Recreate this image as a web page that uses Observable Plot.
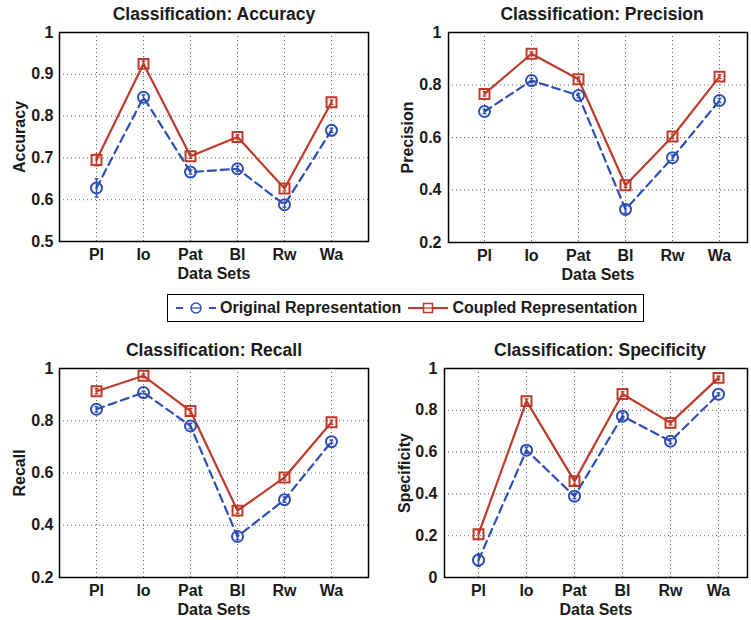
<!DOCTYPE html>
<html>
<head>
<meta charset="utf-8">
<script src="https://cdn.jsdelivr.net/npm/d3@7"></script>
<script src="https://cdn.jsdelivr.net/npm/@observablehq/plot@0.6"></script>
<style>
  body { margin: 0; background: #fff; font-family: "Liberation Sans", Arial, Helvetica, sans-serif; }
  #wrap { position: relative; width: 751px; height: 620px; overflow: hidden; }
  .panel { position: absolute; }
  #legend {
    position: absolute; left: 167px; top: 294px; width: 477px; height: 28px;
    box-sizing: border-box; border: 1px solid #000; background: #fff;
    font-weight: bold; font-size: 16px; color: #1a1a1a;
    display: flex; align-items: center; white-space: nowrap;
  }
  #legend svg { display: block; flex: none; }
  #legend .lab { margin-left: 3px; }
</style>
</head>
<body>
<div id="wrap"><div id="legend"></div></div>
<script>
// Data sets on the x axis
const datasets = ["Pl", "Io", "Pat", "Bl", "Rw", "Wa"];

// Accuracy
const accOriginal = [0.628, 0.845, 0.666, 0.674, 0.588, 0.766];
const accOriginalErr = [0.022, 0.006, 0.005, 0.006, 0.006, 0.005];
const accCoupled = [0.695, 0.925, 0.704, 0.750, 0.627, 0.833];
const accCoupledErr = [0.014, 0.006, 0.005, 0.005, 0.006, 0.005];

// Precision
const precOriginal = [0.699, 0.817, 0.760, 0.326, 0.523, 0.741];
const precOriginalErr = [0.008, 0.008, 0.008, 0.014, 0.010, 0.008];
const precCoupled = [0.766, 0.919, 0.822, 0.418, 0.604, 0.832];
const precCoupledErr = [0.008, 0.007, 0.008, 0.008, 0.008, 0.007];

// Recall
const recOriginal = [0.844, 0.908, 0.780, 0.357, 0.498, 0.720];
const recOriginalErr = [0.010, 0.005, 0.010, 0.012, 0.010, 0.006];
const recCoupled = [0.913, 0.972, 0.837, 0.456, 0.583, 0.794];
const recCoupledErr = [0.010, 0.007, 0.010, 0.010, 0.010, 0.008];

// Specificity
const specOriginal = [0.083, 0.609, 0.389, 0.772, 0.652, 0.877];
const specOriginalErr = [0.030, 0.015, 0.012, 0.015, 0.012, 0.006];
const specCoupled = [0.207, 0.844, 0.461, 0.878, 0.740, 0.955];
const specCoupledErr = [0.020, 0.010, 0.015, 0.010, 0.010, 0.008];

const seriesNames = ["Original Representation", "Coupled Representation"];
const blue = "#2f4fb4";
const red = "#bf3a2b";
const textColor = "#1a1a1a";
const font = "'Liberation Sans', Arial, Helvetica, sans-serif";

// Short horizontal stroke used as the error bar caps
const capSymbol = {
  draw(context, size) {
    const w = Math.sqrt(size) / 2;
    context.moveTo(-w, 0);
    context.lineTo(w, 0);
  }
};

function rows(values, errs) {
  return datasets.map((set, i) => ({set, v: values[i], e: errs[i]}));
}

function tickLabel(d) {
  if (d === 0) return "0";
  if (d === 1) return "1";
  return d3.format(".1f")(d);
}

function panel(o) {
  const orig = rows(o.orig, o.origErr);
  const coup = rows(o.coup, o.coupErr);
  const labelStyle = {fontWeight: "bold", fill: textColor, textAnchor: "middle", lineAnchor: "middle"};
  const chart = Plot.plot({
    width: o.width,
    height: o.height,
    marginLeft: o.m[3],
    marginRight: o.m[1],
    marginTop: o.m[0],
    marginBottom: o.m[2],
    style: {fontFamily: font, fontSize: "16px", fontWeight: "bold", color: textColor, background: "transparent", overflow: "visible"},
    x: {type: "point", domain: datasets, padding: o.padding, align: o.align},
    y: {domain: o.yDomain},
    marks: [
      Plot.gridX({stroke: "#444", strokeOpacity: 0.85, strokeDasharray: "1,3"}),
      Plot.gridY(o.yTicks, {stroke: "#444", strokeOpacity: 0.85, strokeDasharray: "1,3"}),
      Plot.axisX({tickSize: 0, tickPadding: o.xPad, label: null, fontSize: 16}),
      Plot.axisY(o.yTicks, {tickSize: 0, tickPadding: o.yPad, tickFormat: tickLabel, label: null, fontSize: 16}),
      // Original representation: dashed blue line with open circles
      Plot.lineY(orig, {x: "set", y: "v", stroke: blue, strokeWidth: 2.2, strokeDasharray: "8,5"}),
      // Coupled representation: solid red line with open squares
      Plot.lineY(coup, {x: "set", y: "v", stroke: red, strokeWidth: 2.2}),
      Plot.ruleX(orig, {x: "set", y1: d => d.v - d.e, y2: d => d.v + d.e, stroke: blue, strokeWidth: 1.6}),
      Plot.ruleX(coup, {x: "set", y1: d => d.v - d.e, y2: d => d.v + d.e, stroke: red, strokeWidth: 1.6}),
      Plot.dot(orig, {x: "set", y: d => d.v + d.e, symbol: capSymbol, r: 2.2, stroke: blue, strokeWidth: 1.4}),
      Plot.dot(orig, {x: "set", y: d => d.v - d.e, symbol: capSymbol, r: 2.2, stroke: blue, strokeWidth: 1.4}),
      Plot.dot(coup, {x: "set", y: d => d.v + d.e, symbol: capSymbol, r: 2.2, stroke: red, strokeWidth: 1.4}),
      Plot.dot(coup, {x: "set", y: d => d.v - d.e, symbol: capSymbol, r: 2.2, stroke: red, strokeWidth: 1.4}),
      Plot.dot(orig, {x: "set", y: "v", symbol: "circle", r: 5.5, stroke: blue, strokeWidth: 2, fill: "none"}),
      Plot.dot(coup, {x: "set", y: "v", symbol: "square", r: 5.6, stroke: red, strokeWidth: 2, fill: "none"}),
      Plot.frame({stroke: "#000", strokeWidth: 1.5}),
      // Title, x label and rotated y label
      Plot.text([o.title], {frameAnchor: "top", dy: o.titleDy, dx: o.titleDx, fontSize: 17.5, ...labelStyle}),
      Plot.text(["Data Sets"], {frameAnchor: "bottom", dy: o.xLabDy, fontSize: 16, ...labelStyle}),
      Plot.text([o.ylabel], {frameAnchor: "left", dx: o.yLabDx, rotate: -90, fontSize: 16, ...labelStyle})
    ]
  });
  chart.classList.add("panel");
  chart.style.left = o.left + "px";
  chart.style.top = o.top + "px";
  document.getElementById("wrap").appendChild(chart);
}

const ticksA = [0.5, 0.6, 0.7, 0.8, 0.9, 1];
const ticksB = [0.2, 0.4, 0.6, 0.8, 1];
const ticksC = [0, 0.2, 0.4, 0.6, 0.8, 1];

panel({
  title: "Classification: Accuracy", ylabel: "Accuracy",
  orig: accOriginal, origErr: accOriginalErr, coup: accCoupled, coupErr: accCoupledErr,
  yDomain: [0.5, 1], yTicks: ticksA,
  left: 0, top: 0, width: 375, height: 290, m: [32, 7, 49, 59],
  padding: 0.72, align: 0.5, xPad: 7, yPad: 6,
  titleDy: -18, titleDx: 0, xLabDy: 32, yLabDx: -40
});
panel({
  title: "Classification: Precision", ylabel: "Precision",
  orig: precOriginal, origErr: precOriginalErr, coup: precCoupled, coupErr: precCoupledErr,
  yDomain: [0.2, 1], yTicks: ticksB,
  left: 375, top: 0, width: 376, height: 290, m: [32, 4, 48, 73],
  padding: 0.615, align: 0.56, xPad: 7, yPad: 7,
  titleDy: -18, titleDx: 4, xLabDy: 32, yLabDx: -41
});
panel({
  title: "Classification: Recall", ylabel: "Recall",
  orig: recOriginal, origErr: recOriginalErr, coup: recCoupled, coupErr: recCoupledErr,
  yDomain: [0.2, 1], yTicks: ticksB,
  left: 0, top: 330, width: 375, height: 290, m: [38, 7, 43, 59],
  padding: 0.72, align: 0.5, xPad: 7.5, yPad: 6,
  titleDy: -18.5, titleDx: 0, xLabDy: 32.5, yLabDx: -40
});
panel({
  title: "Classification: Specificity", ylabel: "Specificity",
  orig: specOriginal, origErr: specOriginalErr, coup: specCoupled, coupErr: specCoupledErr,
  yDomain: [0, 1], yTicks: ticksC,
  left: 375, top: 330, width: 376, height: 290, m: [38, 4, 43, 69],
  padding: 0.65, align: 0.54, xPad: 7.5, yPad: 7,
  titleDy: -18.5, titleDx: 4, xLabDy: 32.5, yLabDx: -40
});

// Legend: line samples with their markers, then the series names
const legend = document.getElementById("legend");
function legendItem(name, color, dashed, marker, gap) {
  const ns = "http://www.w3.org/2000/svg";
  const svg = document.createElementNS(ns, "svg");
  svg.setAttribute("width", 42);
  svg.setAttribute("height", 14);
  svg.style.marginLeft = gap + "px";
  const line = document.createElementNS(ns, "line");
  line.setAttribute("x1", 1); line.setAttribute("x2", 41);
  line.setAttribute("y1", 7); line.setAttribute("y2", 7);
  line.setAttribute("stroke", color); line.setAttribute("stroke-width", 2);
  if (dashed) line.setAttribute("stroke-dasharray", "7,27");
  svg.appendChild(line);
  if (dashed) {
    const l2 = document.createElementNS(ns, "line");
    l2.setAttribute("x1", 34); l2.setAttribute("x2", 41);
    l2.setAttribute("y1", 7); l2.setAttribute("y2", 7);
    l2.setAttribute("stroke", color); l2.setAttribute("stroke-width", 2);
    svg.appendChild(l2);
  }
  let m;
  if (marker === "circle") {
    m = document.createElementNS(ns, "circle");
    m.setAttribute("cx", 21); m.setAttribute("cy", 7); m.setAttribute("r", 5);
  } else {
    m = document.createElementNS(ns, "rect");
    m.setAttribute("x", 16.5); m.setAttribute("y", 2.5); m.setAttribute("width", 9); m.setAttribute("height", 9);
  }
  m.setAttribute("fill", "#fff"); m.setAttribute("stroke", color); m.setAttribute("stroke-width", 1.5);
  svg.appendChild(m);
  const bar = document.createElementNS(ns, "line");
  bar.setAttribute("x1", marker === "circle" ? 16 : 17); bar.setAttribute("x2", marker === "circle" ? 26 : 25);
  bar.setAttribute("y1", 7); bar.setAttribute("y2", 7);
  bar.setAttribute("stroke", color); bar.setAttribute("stroke-width", 1.2);
  svg.appendChild(bar);
  legend.appendChild(svg);
  const span = document.createElement("span");
  span.className = "lab";
  span.textContent = name;
  legend.appendChild(span);
}
legendItem(seriesNames[0], blue, true, "circle", 7);
legendItem(seriesNames[1], red, false, "square", 6);
</script>
</body>
</html>
